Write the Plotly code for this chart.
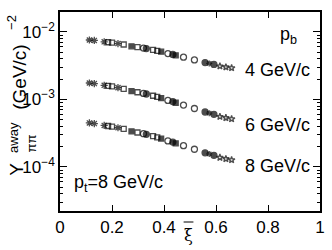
import math
import plotly.graph_objects as go

# xi-bar positions of the measured points (shared by all three p_b rows)
xi = [0.113, 0.132, 0.170, 0.185, 0.200, 0.223, 0.245, 0.275, 0.298, 0.321,
      0.332, 0.358, 0.374, 0.389, 0.415, 0.434, 0.445, 0.475, 0.517, 0.558,
      0.574, 0.592, 0.615, 0.638, 0.660]
symbols = ["asterisk-open", "asterisk-open", "asterisk-open", "square-open", "square-open",
           "asterisk-open", "square-open", "square", "square-open", "circle-open",
           "circle", "square-open", "square-open", "square", "circle-open",
           "circle", "square", "circle-open", "circle-open", "circle",
           "asterisk-open", "circle", "star-open", "star-open", "star-open"]
sizes = [6, 6, 6, 5, 5, 6, 5, 5, 5, 6, 6, 5, 5, 5, 6, 6, 5, 6, 6, 6, 5, 6, 5, 5, 5]

y_pb4 = [7.61e-3, 7.49e-3, 7.15e-3, 7.05e-3, 6.94e-3, 6.73e-3, 6.52e-3, 6.14e-3, 5.95e-3, 5.77e-3,
         5.68e-3, 5.43e-3, 5.26e-3, 5.10e-3, 4.79e-3, 4.65e-3, 4.51e-3, 4.24e-3, 3.86e-3, 3.52e-3,
         3.42e-3, 3.31e-3, 3.11e-3, 3.02e-3, 2.93e-3]
y_pb6 = [1.755e-3, 1.721e-3, 1.622e-3, 1.590e-3, 1.559e-3, 1.499e-3, 1.440e-3, 1.330e-3, 1.279e-3, 1.229e-3,
         1.205e-3, 1.136e-3, 1.092e-3, 1.049e-3, 9.69e-4, 9.31e-4, 8.95e-4, 8.27e-4, 7.35e-4, 6.52e-4,
         6.27e-4, 6.03e-4, 5.57e-4, 5.35e-4, 5.14e-4]
y_pb8 = [4.49e-4, 4.40e-4, 4.13e-4, 4.05e-4, 3.97e-4, 3.81e-4, 3.66e-4, 3.37e-4, 3.24e-4, 3.11e-4,
         3.05e-4, 2.87e-4, 2.75e-4, 2.64e-4, 2.43e-4, 2.34e-4, 2.24e-4, 2.07e-4, 1.83e-4, 1.62e-4,
         1.56e-4, 1.49e-4, 1.38e-4, 1.32e-4, 1.27e-4]

row_labels = ["4 GeV/c", "6 GeV/c", "8 GeV/c"]
row_label_y = [2.74e-3, 4.2e-4, 1.05e-4]

x_ticks = [0, 0.2, 0.4, 0.6, 0.8, 1]
x_ticktext = ["0", "0.2", "0.4", "0.6", "0.8", "1"]
y_ticks = [1e-4, 1e-3, 1e-2]
y_ticktext = ["10<sup>−4</sup>", "10<sup>−3</sup>", "10<sup>−2</sup>"]

FONT = "Liberation Sans, Arial, Helvetica, sans-serif"

fig = go.Figure()
for ys in (y_pb4, y_pb6, y_pb8):
    fig.add_trace(go.Scatter(
        x=xi, y=ys, mode="markers", showlegend=False,
        marker=dict(symbol=symbols, size=sizes, color="black",
                    line=dict(color="black", width=1.3)),
    ))

minor_vals = [m * 10 ** e for e in (-5, -4, -3, -2) for m in range(2, 10)]

axis_common = dict(showline=True, linecolor="black", linewidth=1.5, mirror="allticks",
                   ticks="inside", tickcolor="black", showgrid=False, zeroline=False,
                   tickfont=dict(family=FONT, size=17, color="black"))

fig.update_xaxes(range=[0, 1], tickvals=x_ticks, ticktext=x_ticktext, ticklen=6, tickwidth=1,
                 **axis_common)
fig.update_yaxes(type="log", range=[-4.652, -1.704], tickvals=y_ticks, ticktext=y_ticktext,
                 ticklen=7, tickwidth=1,
                 minor=dict(tickvals=minor_vals, ticks="inside", ticklen=3, tickcolor="black",
                            showgrid=False),
                 **axis_common)

ann = []
for lab, yv in zip(row_labels, row_label_y):
    ann.append(dict(x=0.705, y=math.log10(yv), xref="x", yref="y", yanchor="middle", xanchor="left",
                    text=lab, showarrow=False, font=dict(family=FONT, size=18, color="black")))
ann.append(dict(x=0.88, y=0.88, xref="paper", yref="paper", xanchor="center", yanchor="middle",
                text="p<sub>b</sub>", showarrow=False, font=dict(family=FONT, size=18, color="black")))
ann.append(dict(x=0.045, y=0.14, xref="paper", yref="paper", xanchor="left", yanchor="middle",
                text="p<sub>t</sub>=8 GeV/c", showarrow=False, font=dict(family=FONT, size=18, color="black")))


def px2paper(px, py):
    return (px - 60) / 265, (211 - py) / 199


# x title: xi with an overline
xp, yp = px2paper(191, 235)
ann.append(dict(x=xp, y=yp, xref="paper", yref="paper", xanchor="center", yanchor="middle",
                text="ξ", showarrow=False, font=dict(family="DejaVu Serif", size=16, color="black")))
x0, y0 = px2paper(186, 222)
x1, _ = px2paper(196, 222)
fig.add_shape(type="line", xref="paper", yref="paper", x0=x0, x1=x1, y0=y0, y1=y0,
              line=dict(color="black", width=1))

# y title pieces (rotated)
for txt, (px, py), sz in [("Y", (15, 169), 19), ("away", (12, 137), 13), ("ππ", (30, 144), 13),
                          ("(GeV/c)", (18, 77), 19), ("−2", (10, 22), 13)]:
    xp, yp = px2paper(px, py)
    ann.append(dict(x=xp, y=yp, xref="paper", yref="paper", xanchor="center", yanchor="middle",
                    text=txt, textangle=-90, showarrow=False,
                    font=dict(family=FONT, size=sz, color="black")))

fig.update_layout(width=332, height=250, margin=dict(l=60, r=7, t=12, b=39),
                  paper_bgcolor="white", plot_bgcolor="white", annotations=ann)

fig.write_html("out.html", post_script="document.body.style.margin='0';",
               config={"displayModeBar": False})
